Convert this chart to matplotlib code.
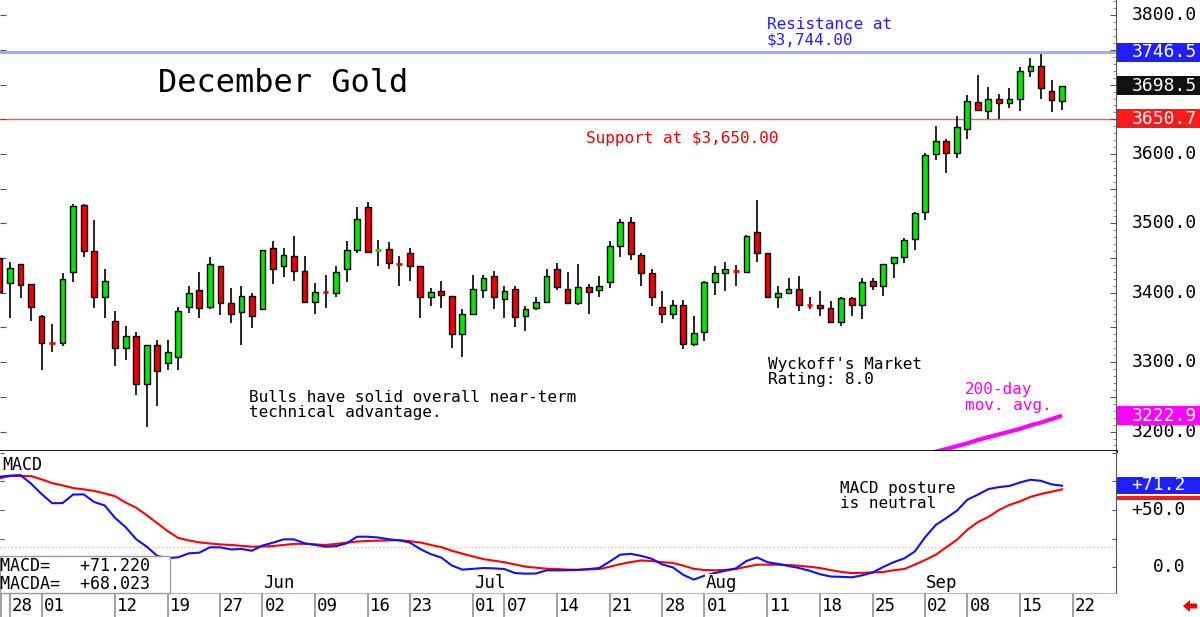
import numpy as np
import matplotlib.pyplot as plt
from matplotlib.patches import Rectangle
from matplotlib.ticker import MultipleLocator
import matplotlib.transforms as mtransforms

plt.rcParams['font.family'] = ['DejaVu Sans Mono', 'DejaVu Sans']

# daily candles, trading day index -1 (Apr 25) .. 100 (Sep 19)
opens = [3450, 3414, 3441, 3412, 3367, 3328, 3327, 3430, 3527, 3460, 3394, 3359, 3321, 3338, 3268,
         3325, 3299, 3308, 3380, 3404, 3379, 3439, 3385, 3373, 3395, 3376, 3464, 3439, 3453, 3432,
         3387, 3402, 3399, 3434, 3461, 3524, 3461, 3463, 3442, 3457, 3439, 3394, 3403, 3395, 3340,
         3369, 3404, 3424, 3391, 3405, 3367, 3378, 3387, 3434, 3406, 3386, 3409, 3404, 3415, 3468,
         3502, 3455, 3428, 3379, 3370, 3382, 3326, 3343, 3416, 3429, 3433, 3430, 3487, 3457, 3394,
         3399, 3406, 3383, 3382, 3378, 3358, 3392, 3382, 3417, 3410, 3443, 3452, 3477, 3517, 3600,
         3619, 3601, 3636, 3675, 3662, 3680, 3673, 3679, 3720, 3727, 3691, 3677]
highs = [3458, 3445, 3442, 3413, 3368, 3355, 3428, 3528, 3528, 3505, 3434, 3374, 3352, 3343, 3325,
         3332, 3332, 3380, 3410, 3430, 3451, 3439, 3407, 3410, 3400, 3462, 3474, 3464, 3482, 3453,
         3414, 3426, 3438, 3474, 3523, 3531, 3476, 3473, 3453, 3464, 3439, 3407, 3417, 3395, 3376,
         3425, 3426, 3432, 3410, 3410, 3381, 3394, 3435, 3443, 3430, 3442, 3412, 3424, 3474, 3506,
         3509, 3458, 3434, 3402, 3390, 3390, 3367, 3417, 3439, 3445, 3440, 3483, 3534, 3457, 3410,
         3422, 3424, 3394, 3403, 3388, 3394, 3394, 3422, 3421, 3442, 3452, 3479, 3517, 3602, 3640,
         3621, 3655, 3685, 3714, 3697, 3687, 3695, 3725, 3739, 3744, 3706, 3697]
lows = [3390, 3363, 3392, 3360, 3289, 3314, 3323, 3416, 3451, 3378, 3363, 3294, 3303, 3252, 3207,
        3237, 3289, 3289, 3371, 3363, 3376, 3368, 3357, 3325, 3349, 3375, 3413, 3423, 3417, 3387,
        3369, 3378, 3394, 3415, 3457, 3457, 3439, 3434, 3410, 3417, 3363, 3381, 3378, 3321, 3307,
        3369, 3392, 3377, 3363, 3351, 3345, 3375, 3387, 3404, 3384, 3382, 3369, 3394, 3407, 3451,
        3447, 3410, 3381, 3356, 3362, 3319, 3323, 3330, 3397, 3403, 3410, 3430, 3445, 3393, 3378,
        3398, 3374, 3377, 3367, 3357, 3352, 3367, 3362, 3404, 3395, 3421, 3443, 3462, 3505, 3591,
        3573, 3595, 3621, 3662, 3650, 3650, 3666, 3662, 3711, 3679, 3660, 3663]
closes = [3401, 3436, 3411, 3380, 3327, 3327, 3420, 3525, 3460, 3394, 3417, 3321, 3338, 3268, 3325,
          3287, 3314, 3374, 3400, 3378, 3441, 3385, 3369, 3395, 3367, 3462, 3434, 3454, 3432, 3387,
          3401, 3401, 3430, 3461, 3507, 3459, 3462, 3443, 3441, 3439, 3394, 3401, 3397, 3340, 3369,
          3406, 3421, 3394, 3403, 3365, 3377, 3387, 3424, 3408, 3386, 3409, 3401, 3410, 3467, 3502,
          3456, 3429, 3394, 3370, 3382, 3326, 3342, 3416, 3428, 3434, 3432, 3482, 3458, 3394, 3399,
          3406, 3382, 3382, 3378, 3358, 3392, 3383, 3416, 3410, 3442, 3451, 3476, 3515, 3599, 3619,
          3602, 3639, 3676, 3663, 3679, 3673, 3680, 3719, 3727, 3695, 3678, 3698.5]
days = list(range(-1, 101))

ma_days = list(range(86, 101))
ma200 = [3163, 3167, 3171, 3175, 3179, 3183, 3188, 3192, 3196, 3200, 3204, 3209, 3213, 3218, 3222.9]

macd = [79, 80, 80.5, 73, 64, 56, 56, 63.5, 63.7, 57, 54, 43, 35, 24.5, 18, 10, 8, 8.8, 12.2, 12.8,
        17.5, 17.4, 15.6, 16, 14.5, 19, 21.5, 24.4, 24.4, 21, 19.6, 18, 18.5, 21, 26.7, 26.7, 26,
        24.5, 23.5, 21.7, 15.9, 11.5, 8.5, 1.6, -2, -1.3, -0.6, -0.9, -1.5, -5, -5.5, -5.4, -2.6,
        -2.6, -2.5, -2.3, -1.5, -0.6, 5, 11, 11.8, 10, 7.5, 2.5, 0, -6.6, -10.7, -7.3, -5, -3, -0.9,
        5.5, 8.7, 4.5, 3, 1.2, -0.6, -3, -6, -8, -8.3, -8.7, -7, -4.5, 0.3, 4.5, 7.8, 13.8, 26.4, 37,
        43, 49.4, 59, 63.4, 68.3, 70, 71, 74, 76.4, 75.5, 72.4, 71.22]
macda = [77.7, 79.7, 79.7, 79.7, 76.8, 73.5, 71.5, 69.2, 68, 66.7, 64.5, 62, 56.5, 52, 45.5, 38.5,
         31.5, 25.6, 23.5, 21.8, 20.8, 20, 19.5, 18.8, 18, 18.2, 18.6, 19.5, 20.5, 20.5, 20, 19.5,
         20.5, 21.5, 22.5, 23, 23.3, 23.5, 23.8, 22.8, 21.7, 19.5, 17.6, 14.5, 11.9, 9.5, 7.2, 5.8,
         4.4, 2.5, 0.6, -0.3, -1.2, -1.5, -2, -2.1, -1.8, -1.5, 0.5, 2.8, 4.6, 6, 5.5, 4.5, 3.8, 1.5,
         -1.3, -2.3, -2.6, -2.2, -1.5, 0.5, 2.3, 2.3, 2.3, 2, 1.4, 0.5, -0.6, -2.4, -4, -5, -4.8,
         -4.4, -4.1, -2.5, -1.5, 2.3, 6.5, 11, 17.5, 24, 32.8, 39.5, 44, 50, 54.5, 57.5, 61.5, 64,
         66, 68.023]

tick_days = [0, 3, 10, 15, 20, 24, 29, 34, 38, 44, 47, 52, 57, 62, 66, 72, 77, 82, 87, 91, 96, 101]
tick_labels = ['28', '01', '12', '19', '27', '02', '09', '16', '23', '01', '07', '14', '21', '28',
               '01', '11', '18', '25', '02', '08', '15', '22']
month_names = ['Jun', 'Jul', 'Aug', 'Sep']
month_days = [24, 44, 66, 87]

resistance = 3746.5
support = 3650.7
last_price = 3698.5

GREEN = '#00e600'
RED = '#ee0000'
xlim = (-0.95, 105.13)

fig = plt.figure(figsize=(12, 6.17), dpi=100)
ax = fig.add_axes([0, 0.26904, 0.93, 0.73096])
ax2 = fig.add_axes([0, 0.0389, 0.93, 0.23015])
ax3 = fig.add_axes([0, 0, 0.93, 0.0389])

# ---- price panel ----
ax.set_xlim(*xlim)
ax.set_ylim(3172, 3822)
ax.axhline(resistance, color='#a8a8ff', lw=2.2, zorder=1)
ax.axhline(support, color='#e86060', lw=1, zorder=1)

w = 0.55
for d, o, h, l, c in zip(days, opens, highs, lows, closes):
    ax.vlines(d, l, h, color='black', lw=1.2, zorder=2)
    if abs(c - o) < 1.5:
        col = GREEN if c >= o else RED
        ax.hlines(c, d - w / 2, d + w / 2, color=col, lw=2, zorder=3)
    else:
        col = GREEN if c > o else RED
        ax.add_patch(Rectangle((d - w / 2, min(o, c)), w, abs(c - o), facecolor=col,
                               edgecolor='black', lw=1, zorder=3))

ax.plot(ma_days, ma200, color='#ff00ff', lw=3, solid_capstyle='butt', zorder=2)

for s in ['top', 'left']:
    ax.spines[s].set_visible(False)
ax.spines['bottom'].set_color('black')
ax.spines['bottom'].set_linewidth(2)
ax.spines['right'].set_color('#555555')
ax.set_xticks([])
ax.yaxis.set_major_locator(MultipleLocator(50))
ax.yaxis.set_minor_locator(MultipleLocator(10))
ax.tick_params(axis='y', which='major', direction='in', length=4, left=True, right=True,
               labelleft=False, labelright=False, color='#555555')
ax.tick_params(axis='y', which='minor', direction='in', length=2, left=False, right=True,
               color='#777777')

tr = mtransforms.blended_transform_factory(ax.transAxes, ax.transData)
for v in range(3200, 3801, 100):
    ax.text(1.0726, v, f'{v:.1f}', transform=tr, ha='right', va='center', fontsize=13,
            color='black', clip_on=False)

boxes = [(resistance, '#2020ff'), (last_price, '#111111'), (support, '#ff1a1a'), (ma200[-1], '#ff00ff')]
for v, col in boxes:
    ax.add_patch(Rectangle((1.0009, v - 13.5), 0.0753, 27, transform=tr, facecolor=col,
                           edgecolor='none', clip_on=False, zorder=5))
    ax.text(1.0726, v, f'{v:.1f}', transform=tr, ha='right', va='center', fontsize=13,
            color='white', clip_on=False, zorder=6)

# ---- MACD panel ----
ax2.set_xlim(*xlim)
ax2.set_ylim(-22.4, 101.5)
ax2.axhline(18, color='#ffb0b0', lw=1, ls=':', zorder=1)
ax2.plot(days, macda, color='#ff0000', lw=1.5, zorder=3)
ax2.plot(days, macd, color='#1010ff', lw=1.5, zorder=3)
for s in ['top', 'left']:
    ax2.spines[s].set_visible(False)
ax2.spines['right'].set_color('#555555')
ax2.spines['bottom'].set_color('#b0b0ff')
ax2.spines['bottom'].set_linestyle((0, (2, 1)))
ax2.set_xticks([])
ax2.yaxis.set_major_locator(MultipleLocator(25))
ax2.tick_params(axis='y', which='major', direction='in', length=3, left=True, right=True,
                labelleft=False, labelright=False, color='#555555')

tr2 = mtransforms.blended_transform_factory(ax2.transAxes, ax2.transData)
ax2.text(1.0627, 50, '+50.0', transform=tr2, ha='right', va='center', fontsize=13, clip_on=False)
ax2.text(1.0627, 0, '0.0', transform=tr2, ha='right', va='center', fontsize=13, clip_on=False)
ax2.add_patch(Rectangle((1.0009, 58.8), 0.0753, 3.0, transform=tr2, facecolor='#ff1a1a',
                        edgecolor='none', clip_on=False, zorder=5))
ax2.add_patch(Rectangle((1.0009, 64.4), 0.0753, 14.0, transform=tr2, facecolor='#2020ff',
                        edgecolor='none', clip_on=False, zorder=6))
ax2.text(1.0627, 71.4, f'{macd[-1]:+.1f}', transform=tr2, ha='right', va='center', fontsize=13,
         color='white', clip_on=False, zorder=7)

trm = mtransforms.blended_transform_factory(ax2.transData, ax2.transAxes)
for name, d in zip(month_names, month_days):
    ax2.text(d + 0.1, 0.005, name, transform=trm, ha='left', va='bottom', fontsize=12.5,
             bbox=dict(facecolor='white', edgecolor='none', pad=0.5), zorder=4)

ax2.text(0.002, 0.9, 'MACD', transform=ax2.transAxes, ha='left', va='center', fontsize=12)

# value box
fig.patches.append(Rectangle((0, 24 / 617), 170 / 1200, 37 / 617, transform=fig.transFigure,
                             facecolor='white', edgecolor='#999999', lw=1, zorder=10))
fig.text(0.0, 1 - 566 / 617, f'MACD=   {macd[-1]:+.3f}', ha='left', va='center', fontsize=12,
         zorder=11)
fig.text(0.0, 1 - 584 / 617, f'MACDA=  {macda[-1]:+.3f}', ha='left', va='center', fontsize=12,
         zorder=11)

# ---- date row ----
ax3.set_xlim(*xlim)
ax3.set_ylim(0, 1)
ax3.axis('off')
for d, lab in zip(tick_days, tick_labels):
    ax3.vlines(d, 0, 1, color='#999999', lw=1.3)
    ax3.text(d + 0.2, 0.45, lab, ha='left', va='center', fontsize=12.5)
ax3.vlines(-0.85, 0, 1, color='#999999', lw=1.3)

# ---- annotations ----
def ftext(x, y, s, **kw):
    fig.text(x / 1200, 1 - y / 617, s, ha='left', va='center', linespacing=1.05, **kw)

ftext(158, 83, 'December Gold', fontsize=23)
ftext(767, 32.5, 'Resistance at\n$3,744.00', fontsize=11.5, color='#2020ff')
ftext(586, 139, 'Support at $3,650.00', fontsize=11.5, color='#ee0000')
ftext(768, 372, "Wyckoff's Market\nRating: 8.0", fontsize=11.5)
ftext(965, 397.5, '200-day\nmov. avg.', fontsize=11.5, color='#ff00ff')
ftext(249, 405, 'Bulls have solid overall near-term\ntechnical advantage.', fontsize=11.5)
ftext(840, 496, 'MACD posture\nis neutral', fontsize=11.5)

fig.patches.append(plt.Polygon([[1183 / 1200, 1 - 606 / 617], [1190 / 1200, 1 - 600 / 617],
                                [1190 / 1200, 1 - 603.5 / 617], [1197 / 1200, 1 - 603.5 / 617],
                                [1197 / 1200, 1 - 608.5 / 617], [1190 / 1200, 1 - 608.5 / 617],
                                [1190 / 1200, 1 - 612 / 617]], closed=True,
                               transform=fig.transFigure, facecolor='#ee0000', edgecolor='none'))

fig.savefig('out.png', dpi=100)
